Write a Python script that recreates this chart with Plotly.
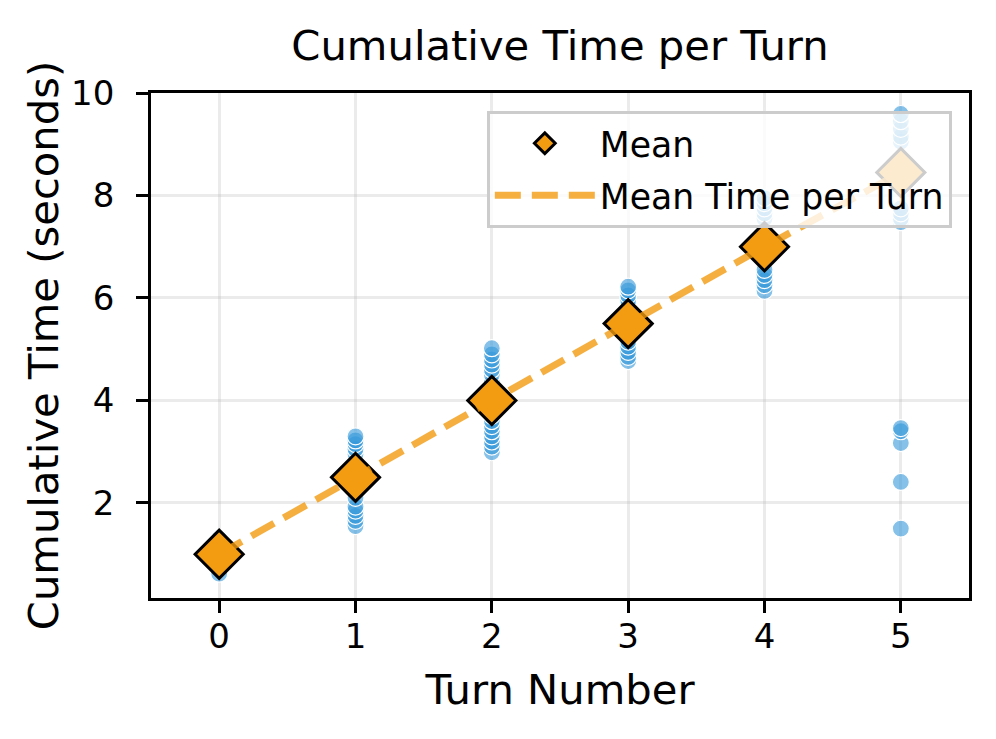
import plotly.graph_objects as go

# ---- data ----
turns = [0, 1, 2, 3, 4, 5]
turn0_times = [0.62, 0.85, 0.95, 1.0, 1.1, 1.2, 1.3]
turn1_times = [1.55, 1.65, 1.75, 1.85, 1.93, 2.1, 2.3, 2.5, 2.7, 2.95, 3.05, 3.15, 3.22, 3.3]
turn2_times = [2.99, 3.1, 3.2, 3.3, 3.4, 3.5, 3.6, 3.7, 4.0, 4.35, 4.5, 4.6, 4.7, 4.8, 4.9, 5.02]
turn3_times = [4.77, 4.85, 4.95, 5.05, 5.15, 5.5, 5.85, 5.95, 6.05, 6.15, 6.22]
turn4_times = [6.14, 6.25, 6.35, 6.45, 6.55, 7.0, 7.55, 7.65, 7.75, 7.85, 7.95]
turn5_times = [1.5, 2.41, 3.17, 3.4, 3.46, 7.48, 7.55, 7.65, 7.75, 8.5, 9.05, 9.15, 9.3, 9.45, 9.59]
mean_times = [1.0, 2.5, 4.0, 5.5, 7.0, 8.45]

all_times = [turn0_times, turn1_times, turn2_times, turn3_times, turn4_times, turn5_times]

FONT = "DejaVu Sans"
BLUE = "rgba(52,152,219,0.6)"
ORANGE = "#f39c12"

fig = go.Figure()

xs, ys = [], []
for t, vals in zip(turns, all_times):
    xs += [t] * len(vals)
    ys += vals

fig.add_trace(go.Scatter(
    x=xs, y=ys, mode="markers", showlegend=False,
    marker=dict(size=17, color=BLUE, line=dict(color="white", width=1.2)),
))

fig.add_trace(go.Scatter(
    x=turns, y=mean_times, mode="markers", name="Mean", legendgroup="a",
    marker=dict(symbol="diamond", size=37, color=ORANGE,
                line=dict(color="black", width=3)),
))

fig.add_trace(go.Scatter(
    x=turns, y=mean_times, mode="lines", name="Mean Time per Turn", legendgroup="b",
    line=dict(color=ORANGE, width=7, dash="26px,11px"), opacity=0.8,
))

axis_common = dict(
    showline=True, linecolor="black", linewidth=2.8, mirror=True,
    ticks="outside", ticklen=12, tickwidth=2.8, tickcolor="black",
    showgrid=True, gridcolor="rgba(176,176,176,0.25)", gridwidth=2.8,
    zeroline=False,
    tickfont=dict(family=FONT, size=34, color="black"),
)

fig.update_xaxes(
    range=[-0.5, 5.5], tickmode="array", tickvals=turns,
    ticktext=[str(t) for t in turns],
    ticklabelstandoff=-6,
    title=dict(text="Turn Number", font=dict(family=FONT, size=41.7, color="black"), standoff=21),
    **axis_common,
)
fig.update_yaxes(
    range=[0.146, 10], tickmode="array", tickvals=[2, 4, 6, 8, 10],
    ticktext=["2", "4", "6", "8", "10"],
    ticklabelstandoff=15,
    title=dict(text="Cumulative Time (seconds)", font=dict(family=FONT, size=41.7, color="black"), standoff=0),
    **axis_common,
)

fig.update_layout(
    width=996, height=739,
    margin=dict(l=143, r=35, t=85, b=149),
    paper_bgcolor="white", plot_bgcolor="white",
    title=dict(text="Cumulative Time per Turn", x=(560 - 8) / 996, xanchor="center",
               y=1 - 37 / 739, yanchor="middle",
               font=dict(family=FONT, size=41.7, color="black")),
    legend=dict(
        x=0.979, y=0.964, xanchor="right", yanchor="top",
        bgcolor="rgba(255,255,255,0.8)", bordercolor="#cccccc", borderwidth=3,
        font=dict(family=FONT, size=34.7, color="black"),
        itemwidth=100, traceorder="grouped", tracegroupgap=4,
    ),
)

fig.write_html("out.html")
